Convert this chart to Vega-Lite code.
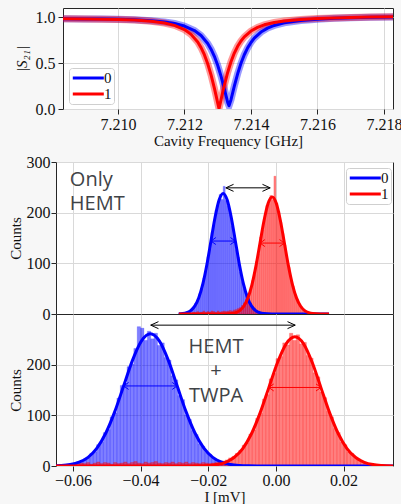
{
"$schema": "https://vega.github.io/schema/vega-lite/v6.json",
"background": "#f7f7f7",
"padding": {"left": 6, "top": 7, "right": 0, "bottom": 0},
"datasets": {
"s21": [
{"s":"0","f":7.2083,"v":0.9824},{"s":"0","f":7.209,"v":0.9813},{"s":"0","f":7.2095,"v":0.9797},{"s":"0","f":7.21,"v":0.9767},{"s":"0","f":7.2105,"v":0.9714},{"s":"0","f":7.211,"v":0.962},{"s":"0","f":7.2114,"v":0.9484},{"s":"0","f":7.2117,"v":0.9315},{"s":"0","f":7.212,"v":0.9037},{"s":"0","f":7.2123,"v":0.8548},{"s":"0","f":7.2125,"v":0.8},{"s":"0","f":7.2127,"v":0.7132},{"s":"0","f":7.2128,"v":0.6515},{"s":"0","f":7.2129,"v":0.5735},{"s":"0","f":7.213,"v":0.4763},{"s":"0","f":7.2131,"v":0.3578},{"s":"0","f":7.2132,"v":0.2198},{"s":"0","f":7.21325,"v":0.1458},{"s":"0","f":7.2133,"v":0.0724},{"s":"0","f":7.21334,"v":0.035},{"s":"0","f":7.2134,"v":0.1011},{"s":"0","f":7.21345,"v":0.1756},{"s":"0","f":7.2135,"v":0.2487},{"s":"0","f":7.2136,"v":0.3832},{"s":"0","f":7.2137,"v":0.4976},{"s":"0","f":7.2138,"v":0.591},{"s":"0","f":7.2139,"v":0.6656},{"s":"0","f":7.214,"v":0.7246},{"s":"0","f":7.2141,"v":0.7712},{"s":"0","f":7.2143,"v":0.8377},{"s":"0","f":7.2145,"v":0.8809},{"s":"0","f":7.2147,"v":0.9099},{"s":"0","f":7.215,"v":0.9381},{"s":"0","f":7.2155,"v":0.9643},{"s":"0","f":7.216,"v":0.9786},{"s":"0","f":7.2165,"v":0.9873},{"s":"0","f":7.217,"v":0.9933},{"s":"0","f":7.2176,"v":0.9985},{"s":"0","f":7.2183,"v":1.0028},
{"s":"1","f":7.2083,"v":0.9822},{"s":"1","f":7.209,"v":0.9809},{"s":"1","f":7.2095,"v":0.9788},{"s":"1","f":7.21,"v":0.9751},{"s":"1","f":7.2105,"v":0.9684},{"s":"1","f":7.211,"v":0.9557},{"s":"1","f":7.2114,"v":0.9364},{"s":"1","f":7.2117,"v":0.9107},{"s":"1","f":7.212,"v":0.8649},{"s":"1","f":7.2122,"v":0.8129},{"s":"1","f":7.2124,"v":0.7291},{"s":"1","f":7.2125,"v":0.6686},{"s":"1","f":7.2126,"v":0.5913},{"s":"1","f":7.2127,"v":0.4931},{"s":"1","f":7.2128,"v":0.3715},{"s":"1","f":7.2129,"v":0.2274},{"s":"1","f":7.21295,"v":0.1485},{"s":"1","f":7.213,"v":0.0667},{"s":"1","f":7.21304,"v":0.005},{"s":"1","f":7.2131,"v":0.0997},{"s":"1","f":7.21315,"v":0.1804},{"s":"1","f":7.2132,"v":0.2579},{"s":"1","f":7.2133,"v":0.398},{"s":"1","f":7.2134,"v":0.515},{"s":"1","f":7.2135,"v":0.609},{"s":"1","f":7.2136,"v":0.683},{"s":"1","f":7.2137,"v":0.741},{"s":"1","f":7.2138,"v":0.786},{"s":"1","f":7.214,"v":0.849},{"s":"1","f":7.2142,"v":0.8896},{"s":"1","f":7.2144,"v":0.9167},{"s":"1","f":7.2147,"v":0.9429},{"s":"1","f":7.215,"v":0.9594},{"s":"1","f":7.2155,"v":0.9758},{"s":"1","f":7.216,"v":0.9856},{"s":"1","f":7.2165,"v":0.9919},{"s":"1","f":7.217,"v":0.9965},{"s":"1","f":7.2176,"v":1.0007},{"s":"1","f":7.2183,"v":1.0043}
],
"hm": [
{"s":"0","a":-0.0288,"b":-0.0282,"c":1},{"s":"0","a":-0.0282,"b":-0.0276,"c":1},{"s":"0","a":-0.0276,"b":-0.027,"c":1},{"s":"0","a":-0.027,"b":-0.0264,"c":2},{"s":"0","a":-0.0264,"b":-0.0258,"c":3},{"s":"0","a":-0.0258,"b":-0.0252,"c":5},{"s":"0","a":-0.0252,"b":-0.0246,"c":9},{"s":"0","a":-0.0246,"b":-0.024,"c":12},{"s":"0","a":-0.024,"b":-0.0234,"c":21},{"s":"0","a":-0.0234,"b":-0.0228,"c":26},{"s":"0","a":-0.0228,"b":-0.0222,"c":40},{"s":"0","a":-0.0222,"b":-0.0216,"c":49},{"s":"0","a":-0.0216,"b":-0.021,"c":71},{"s":"0","a":-0.021,"b":-0.0204,"c":84},{"s":"0","a":-0.0204,"b":-0.0198,"c":113},{"s":"0","a":-0.0198,"b":-0.0192,"c":128},{"s":"0","a":-0.0192,"b":-0.0186,"c":161},{"s":"0","a":-0.0186,"b":-0.018,"c":176},{"s":"0","a":-0.018,"b":-0.0174,"c":205},{"s":"0","a":-0.0174,"b":-0.0168,"c":214},{"s":"0","a":-0.0168,"b":-0.0162,"c":236},{"s":"0","a":-0.0162,"b":-0.0156,"c":226},{"s":"0","a":-0.0156,"b":-0.015,"c":252},{"s":"0","a":-0.015,"b":-0.0144,"c":224},{"s":"0","a":-0.0144,"b":-0.0138,"c":213},{"s":"0","a":-0.0138,"b":-0.0132,"c":196},{"s":"0","a":-0.0132,"b":-0.0126,"c":174},{"s":"0","a":-0.0126,"b":-0.012,"c":151},{"s":"0","a":-0.012,"b":-0.0114,"c":127},{"s":"0","a":-0.0114,"b":-0.0108,"c":112},{"s":"0","a":-0.0108,"b":-0.0102,"c":83},{"s":"0","a":-0.0102,"b":-0.0096,"c":64},{"s":"0","a":-0.0096,"b":-0.009,"c":50},{"s":"0","a":-0.009,"b":-0.0084,"c":40},{"s":"0","a":-0.0084,"b":-0.0078,"c":31},{"s":"0","a":-0.0078,"b":-0.0072,"c":22},{"s":"0","a":-0.0072,"b":-0.0066,"c":15},{"s":"0","a":-0.0066,"b":-0.006,"c":10},{"s":"0","a":-0.006,"b":-0.0054,"c":7},{"s":"0","a":-0.0054,"b":-0.0048,"c":4},{"s":"0","a":-0.0048,"b":-0.0042,"c":3},{"s":"0","a":-0.0042,"b":-0.0036,"c":2},{"s":"0","a":-0.0036,"b":-0.003,"c":1},{"s":"0","a":-0.003,"b":-0.0024,"c":1},
{"s":"1","a":-0.0282,"b":-0.0276,"c":1},{"s":"1","a":-0.027,"b":-0.0264,"c":2},{"s":"1","a":-0.0264,"b":-0.0258,"c":1},{"s":"1","a":-0.0258,"b":-0.0252,"c":3},{"s":"1","a":-0.0252,"b":-0.0246,"c":2},{"s":"1","a":-0.0246,"b":-0.024,"c":4},{"s":"1","a":-0.024,"b":-0.0234,"c":3},{"s":"1","a":-0.0234,"b":-0.0228,"c":5},{"s":"1","a":-0.0228,"b":-0.0222,"c":3},{"s":"1","a":-0.0222,"b":-0.0216,"c":4},{"s":"1","a":-0.0216,"b":-0.021,"c":6},{"s":"1","a":-0.021,"b":-0.0204,"c":3},{"s":"1","a":-0.0204,"b":-0.0198,"c":5},{"s":"1","a":-0.0198,"b":-0.0192,"c":4},{"s":"1","a":-0.0192,"b":-0.0186,"c":6},{"s":"1","a":-0.0186,"b":-0.018,"c":5},{"s":"1","a":-0.018,"b":-0.0174,"c":3},{"s":"1","a":-0.0174,"b":-0.0168,"c":6},{"s":"1","a":-0.0168,"b":-0.0162,"c":4},{"s":"1","a":-0.0162,"b":-0.0156,"c":5},{"s":"1","a":-0.0156,"b":-0.015,"c":6},{"s":"1","a":-0.015,"b":-0.0144,"c":5},{"s":"1","a":-0.0144,"b":-0.0138,"c":6},{"s":"1","a":-0.0138,"b":-0.0132,"c":7},{"s":"1","a":-0.0132,"b":-0.0126,"c":6},{"s":"1","a":-0.0126,"b":-0.012,"c":8},{"s":"1","a":-0.012,"b":-0.0114,"c":9},{"s":"1","a":-0.0114,"b":-0.0108,"c":11},{"s":"1","a":-0.0108,"b":-0.0102,"c":13},{"s":"1","a":-0.0102,"b":-0.0096,"c":17},{"s":"1","a":-0.0096,"b":-0.009,"c":22},{"s":"1","a":-0.009,"b":-0.0084,"c":28},{"s":"1","a":-0.0084,"b":-0.0078,"c":36},{"s":"1","a":-0.0078,"b":-0.0072,"c":45},{"s":"1","a":-0.0072,"b":-0.0066,"c":66},{"s":"1","a":-0.0066,"b":-0.006,"c":78},{"s":"1","a":-0.006,"b":-0.0054,"c":104},{"s":"1","a":-0.0054,"b":-0.0048,"c":119},{"s":"1","a":-0.0048,"b":-0.0042,"c":152},{"s":"1","a":-0.0042,"b":-0.0036,"c":166},{"s":"1","a":-0.0036,"b":-0.003,"c":189},{"s":"1","a":-0.003,"b":-0.0024,"c":214},{"s":"1","a":-0.0024,"b":-0.0018,"c":218},{"s":"1","a":-0.0018,"b":-0.0012,"c":234},{"s":"1","a":-0.0012,"b":-0.0006,"c":226},{"s":"1","a":-0.0006,"b":0,"c":272},{"s":"1","a":0,"b":0.0006,"c":219},{"s":"1","a":0.0006,"b":0.0012,"c":203},{"s":"1","a":0.0012,"b":0.0018,"c":181},{"s":"1","a":0.0018,"b":0.0024,"c":159},{"s":"1","a":0.0024,"b":0.003,"c":136},{"s":"1","a":0.003,"b":0.0036,"c":106},{"s":"1","a":0.0036,"b":0.0042,"c":92},{"s":"1","a":0.0042,"b":0.0048,"c":66},{"s":"1","a":0.0048,"b":0.0054,"c":55},{"s":"1","a":0.0054,"b":0.006,"c":37},{"s":"1","a":0.006,"b":0.0066,"c":29},{"s":"1","a":0.0066,"b":0.0072,"c":19},{"s":"1","a":0.0072,"b":0.0078,"c":14},{"s":"1","a":0.0078,"b":0.0084,"c":9},{"s":"1","a":0.0084,"b":0.009,"c":6},{"s":"1","a":0.009,"b":0.0096,"c":4},{"s":"1","a":0.0096,"b":0.0102,"c":3},{"s":"1","a":0.0102,"b":0.0108,"c":2},{"s":"1","a":0.0108,"b":0.0114,"c":1},{"s":"1","a":0.0114,"b":0.012,"c":1},{"s":"1","a":0.0126,"b":0.0132,"c":1},{"s":"1","a":0.0138,"b":0.0144,"c":1},{"s":"1","a":0.015,"b":0.0156,"c":1}
],
"hb": [
{"s":"0","a":-0.065,"b":-0.064,"c":1},{"s":"0","a":-0.064,"b":-0.063,"c":2},{"s":"0","a":-0.063,"b":-0.062,"c":1},{"s":"0","a":-0.062,"b":-0.061,"c":3},{"s":"0","a":-0.061,"b":-0.06,"c":4},{"s":"0","a":-0.06,"b":-0.059,"c":5},{"s":"0","a":-0.059,"b":-0.058,"c":8},{"s":"0","a":-0.058,"b":-0.057,"c":10},{"s":"0","a":-0.057,"b":-0.056,"c":14},{"s":"0","a":-0.056,"b":-0.055,"c":16},{"s":"0","a":-0.055,"b":-0.054,"c":25},{"s":"0","a":-0.054,"b":-0.053,"c":28},{"s":"0","a":-0.053,"b":-0.052,"c":42},{"s":"0","a":-0.052,"b":-0.051,"c":47},{"s":"0","a":-0.051,"b":-0.05,"c":66},{"s":"0","a":-0.05,"b":-0.049,"c":72},{"s":"0","a":-0.049,"b":-0.048,"c":97},{"s":"0","a":-0.048,"b":-0.047,"c":105},{"s":"0","a":-0.047,"b":-0.046,"c":134},{"s":"0","a":-0.046,"b":-0.045,"c":159},{"s":"0","a":-0.045,"b":-0.044,"c":163},{"s":"0","a":-0.044,"b":-0.043,"c":196},{"s":"0","a":-0.043,"b":-0.042,"c":201},{"s":"0","a":-0.042,"b":-0.041,"c":232},{"s":"0","a":-0.041,"b":-0.04,"c":275},{"s":"0","a":-0.04,"b":-0.039,"c":272},{"s":"0","a":-0.039,"b":-0.038,"c":248},{"s":"0","a":-0.038,"b":-0.037,"c":266},{"s":"0","a":-0.037,"b":-0.036,"c":251},{"s":"0","a":-0.036,"b":-0.035,"c":262},{"s":"0","a":-0.035,"b":-0.034,"c":238},{"s":"0","a":-0.034,"b":-0.033,"c":243},{"s":"0","a":-0.033,"b":-0.032,"c":214},{"s":"0","a":-0.032,"b":-0.031,"c":209},{"s":"0","a":-0.031,"b":-0.03,"c":178},{"s":"0","a":-0.03,"b":-0.029,"c":170},{"s":"0","a":-0.029,"b":-0.028,"c":139},{"s":"0","a":-0.028,"b":-0.027,"c":131},{"s":"0","a":-0.027,"b":-0.026,"c":101},{"s":"0","a":-0.026,"b":-0.025,"c":92},{"s":"0","a":-0.025,"b":-0.024,"c":70},{"s":"0","a":-0.024,"b":-0.023,"c":62},{"s":"0","a":-0.023,"b":-0.022,"c":44},{"s":"0","a":-0.022,"b":-0.021,"c":39},{"s":"0","a":-0.021,"b":-0.02,"c":27},{"s":"0","a":-0.02,"b":-0.019,"c":23},{"s":"0","a":-0.019,"b":-0.018,"c":15},{"s":"0","a":-0.018,"b":-0.017,"c":13},{"s":"0","a":-0.017,"b":-0.016,"c":8},{"s":"0","a":-0.016,"b":-0.015,"c":7},{"s":"0","a":-0.015,"b":-0.014,"c":4},{"s":"0","a":-0.014,"b":-0.013,"c":3},{"s":"0","a":-0.013,"b":-0.012,"c":2},{"s":"0","a":-0.012,"b":-0.011,"c":2},{"s":"0","a":-0.011,"b":-0.01,"c":1},
{"s":"1","a":-0.065,"b":-0.064,"c":2},{"s":"1","a":-0.064,"b":-0.063,"c":3},{"s":"1","a":-0.063,"b":-0.062,"c":2},{"s":"1","a":-0.062,"b":-0.061,"c":4},{"s":"1","a":-0.061,"b":-0.06,"c":3},{"s":"1","a":-0.06,"b":-0.059,"c":5},{"s":"1","a":-0.059,"b":-0.058,"c":4},{"s":"1","a":-0.058,"b":-0.057,"c":6},{"s":"1","a":-0.057,"b":-0.056,"c":5},{"s":"1","a":-0.056,"b":-0.055,"c":7},{"s":"1","a":-0.055,"b":-0.054,"c":4},{"s":"1","a":-0.054,"b":-0.053,"c":6},{"s":"1","a":-0.053,"b":-0.052,"c":8},{"s":"1","a":-0.052,"b":-0.051,"c":5},{"s":"1","a":-0.051,"b":-0.05,"c":7},{"s":"1","a":-0.05,"b":-0.049,"c":6},{"s":"1","a":-0.049,"b":-0.048,"c":4},{"s":"1","a":-0.048,"b":-0.047,"c":7},{"s":"1","a":-0.047,"b":-0.046,"c":5},{"s":"1","a":-0.046,"b":-0.045,"c":6},{"s":"1","a":-0.045,"b":-0.044,"c":8},{"s":"1","a":-0.044,"b":-0.043,"c":5},{"s":"1","a":-0.043,"b":-0.042,"c":7},{"s":"1","a":-0.042,"b":-0.041,"c":9},{"s":"1","a":-0.041,"b":-0.04,"c":6},{"s":"1","a":-0.04,"b":-0.039,"c":5},{"s":"1","a":-0.039,"b":-0.038,"c":8},{"s":"1","a":-0.038,"b":-0.037,"c":6},{"s":"1","a":-0.037,"b":-0.036,"c":7},{"s":"1","a":-0.036,"b":-0.035,"c":9},{"s":"1","a":-0.035,"b":-0.034,"c":6},{"s":"1","a":-0.034,"b":-0.033,"c":5},{"s":"1","a":-0.033,"b":-0.032,"c":7},{"s":"1","a":-0.032,"b":-0.031,"c":6},{"s":"1","a":-0.031,"b":-0.03,"c":8},{"s":"1","a":-0.03,"b":-0.029,"c":5},{"s":"1","a":-0.029,"b":-0.028,"c":7},{"s":"1","a":-0.028,"b":-0.027,"c":6},{"s":"1","a":-0.027,"b":-0.026,"c":8},{"s":"1","a":-0.026,"b":-0.025,"c":5},{"s":"1","a":-0.025,"b":-0.024,"c":7},{"s":"1","a":-0.024,"b":-0.023,"c":6},{"s":"1","a":-0.023,"b":-0.022,"c":5},{"s":"1","a":-0.022,"b":-0.021,"c":7},{"s":"1","a":-0.021,"b":-0.02,"c":6},{"s":"1","a":-0.02,"b":-0.019,"c":5},{"s":"1","a":-0.019,"b":-0.018,"c":6},{"s":"1","a":-0.018,"b":-0.017,"c":7},{"s":"1","a":-0.017,"b":-0.016,"c":8},{"s":"1","a":-0.016,"b":-0.015,"c":10},{"s":"1","a":-0.015,"b":-0.014,"c":12},{"s":"1","a":-0.014,"b":-0.013,"c":16},{"s":"1","a":-0.013,"b":-0.012,"c":19},{"s":"1","a":-0.012,"b":-0.011,"c":25},{"s":"1","a":-0.011,"b":-0.01,"c":31},{"s":"1","a":-0.01,"b":-0.009,"c":41},{"s":"1","a":-0.009,"b":-0.008,"c":46},{"s":"1","a":-0.008,"b":-0.007,"c":63},{"s":"1","a":-0.007,"b":-0.006,"c":71},{"s":"1","a":-0.006,"b":-0.005,"c":94},{"s":"1","a":-0.005,"b":-0.004,"c":104},{"s":"1","a":-0.004,"b":-0.003,"c":132},{"s":"1","a":-0.003,"b":-0.002,"c":141},{"s":"1","a":-0.002,"b":-0.001,"c":172},{"s":"1","a":-0.001,"b":0,"c":183},{"s":"1","a":0,"b":0.001,"c":212},{"s":"1","a":0.001,"b":0.002,"c":216},{"s":"1","a":0.002,"b":0.003,"c":243},{"s":"1","a":0.003,"b":0.004,"c":239},{"s":"1","a":0.004,"b":0.005,"c":262},{"s":"1","a":0.005,"b":0.006,"c":248},{"s":"1","a":0.006,"b":0.007,"c":259},{"s":"1","a":0.007,"b":0.008,"c":241},{"s":"1","a":0.008,"b":0.009,"c":244},{"s":"1","a":0.009,"b":0.01,"c":218},{"s":"1","a":0.01,"b":0.011,"c":213},{"s":"1","a":0.011,"b":0.012,"c":184},{"s":"1","a":0.012,"b":0.013,"c":176},{"s":"1","a":0.013,"b":0.014,"c":146},{"s":"1","a":0.014,"b":0.015,"c":135},{"s":"1","a":0.015,"b":0.016,"c":108},{"s":"1","a":0.016,"b":0.017,"c":97},{"s":"1","a":0.017,"b":0.018,"c":74},{"s":"1","a":0.018,"b":0.019,"c":66},{"s":"1","a":0.019,"b":0.02,"c":47},{"s":"1","a":0.02,"b":0.021,"c":42},{"s":"1","a":0.021,"b":0.022,"c":28},{"s":"1","a":0.022,"b":0.023,"c":25},{"s":"1","a":0.023,"b":0.024,"c":15},{"s":"1","a":0.024,"b":0.025,"c":14},{"s":"1","a":0.025,"b":0.026,"c":8},{"s":"1","a":0.026,"b":0.027,"c":7},{"s":"1","a":0.027,"b":0.028,"c":4},{"s":"1","a":0.028,"b":0.029,"c":3},{"s":"1","a":0.029,"b":0.03,"c":2},{"s":"1","a":0.03,"b":0.031,"c":1},{"s":"1","a":0.031,"b":0.032,"c":1},{"s":"1","a":0.032,"b":0.033,"c":1}
],
"fm": [
{"s":"0","x":-0.0287,"y":0.3},{"s":"0","x":-0.0276,"y":0.9},{"s":"0","x":-0.0264,"y":2.6},{"s":"0","x":-0.0252,"y":6.8},{"s":"0","x":-0.024,"y":15.6},{"s":"0","x":-0.0228,"y":32.2},{"s":"0","x":-0.0216,"y":59.4},{"s":"0","x":-0.0204,"y":97.8},{"s":"0","x":-0.0192,"y":144.3},{"s":"0","x":-0.018,"y":190.6},{"s":"0","x":-0.0168,"y":225.1},{"s":"0","x":-0.0156,"y":238},{"s":"0","x":-0.0144,"y":225.1},{"s":"0","x":-0.0132,"y":190.6},{"s":"0","x":-0.012,"y":144.3},{"s":"0","x":-0.0108,"y":97.8},{"s":"0","x":-0.0096,"y":59.4},{"s":"0","x":-0.0084,"y":32.2},{"s":"0","x":-0.0072,"y":15.6},{"s":"0","x":-0.006,"y":6.8},{"s":"0","x":-0.0048,"y":2.6},{"s":"0","x":-0.0036,"y":0.9},{"s":"0","x":-0.0012,"y":0.1},{"s":"0","x":0.005,"y":0},{"s":"0","x":0.0157,"y":0},
{"s":"1","x":-0.0287,"y":0},{"s":"1","x":-0.022,"y":0},{"s":"1","x":-0.0155,"y":0.1},{"s":"1","x":-0.0131,"y":0.9},{"s":"1","x":-0.0119,"y":2.6},{"s":"1","x":-0.0107,"y":6.6},{"s":"1","x":-0.0095,"y":15.2},{"s":"1","x":-0.0083,"y":31.3},{"s":"1","x":-0.0071,"y":57.6},{"s":"1","x":-0.0059,"y":95},{"s":"1","x":-0.0047,"y":140.1},{"s":"1","x":-0.0035,"y":185},{"s":"1","x":-0.0023,"y":218.5},{"s":"1","x":-0.0011,"y":231},{"s":"1","x":0.0001,"y":218.5},{"s":"1","x":0.0013,"y":185},{"s":"1","x":0.0025,"y":140.1},{"s":"1","x":0.0037,"y":95},{"s":"1","x":0.0049,"y":57.6},{"s":"1","x":0.0061,"y":31.3},{"s":"1","x":0.0073,"y":15.2},{"s":"1","x":0.0085,"y":6.6},{"s":"1","x":0.0097,"y":2.6},{"s":"1","x":0.0109,"y":0.9},{"s":"1","x":0.0133,"y":0.1},{"s":"1","x":0.0157,"y":0}
],
"fb": [
{"s":"0","x":-0.065,"y":0.5},{"s":"0","x":-0.06343,"y":1},{"s":"0","x":-0.0608,"y":2.9},{"s":"0","x":-0.05817,"y":7.5},{"s":"0","x":-0.05553,"y":17.1},{"s":"0","x":-0.0529,"y":35.3},{"s":"0","x":-0.05027,"y":65.1},{"s":"0","x":-0.04763,"y":107.3},{"s":"0","x":-0.045,"y":158.3},{"s":"0","x":-0.04237,"y":209},{"s":"0","x":-0.03973,"y":246.9},{"s":"0","x":-0.0371,"y":261},{"s":"0","x":-0.03447,"y":246.9},{"s":"0","x":-0.03183,"y":209},{"s":"0","x":-0.0292,"y":158.3},{"s":"0","x":-0.02657,"y":107.3},{"s":"0","x":-0.02393,"y":65.1},{"s":"0","x":-0.0213,"y":35.3},{"s":"0","x":-0.01867,"y":17.1},{"s":"0","x":-0.01603,"y":7.5},{"s":"0","x":-0.0134,"y":2.9},{"s":"0","x":-0.01077,"y":1},{"s":"0","x":-0.00813,"y":0.3},{"s":"0","x":-0.0055,"y":0.1},{"s":"0","x":0.005,"y":0},{"s":"0","x":0.0346,"y":0},
{"s":"1","x":-0.065,"y":0},{"s":"1","x":-0.04,"y":0},{"s":"1","x":-0.0252,"y":0.1},{"s":"1","x":-0.02263,"y":0.3},{"s":"1","x":-0.02007,"y":1},{"s":"1","x":-0.0175,"y":2.8},{"s":"1","x":-0.01493,"y":7.3},{"s":"1","x":-0.01237,"y":16.8},{"s":"1","x":-0.0098,"y":34.5},{"s":"1","x":-0.00723,"y":63.6},{"s":"1","x":-0.00467,"y":104.8},{"s":"1","x":-0.0021,"y":154.7},{"s":"1","x":0.00047,"y":204.2},{"s":"1","x":0.00303,"y":241.2},{"s":"1","x":0.0056,"y":255},{"s":"1","x":0.00817,"y":241.2},{"s":"1","x":0.01073,"y":204.2},{"s":"1","x":0.0133,"y":154.7},{"s":"1","x":0.01587,"y":104.8},{"s":"1","x":0.01843,"y":63.6},{"s":"1","x":0.021,"y":34.5},{"s":"1","x":0.02357,"y":16.8},{"s":"1","x":0.02613,"y":7.3},{"s":"1","x":0.0287,"y":2.8},{"s":"1","x":0.03127,"y":1},{"s":"1","x":0.0346,"y":0.2}
],
"am": [{"s":"d","x1":-0.0148,"x2":-0.0017,"y":249},{"s":"0","x1":-0.0192,"x2":-0.012,"y":144},{"s":"1","x1":-0.0047,"x2":0.0025,"y":140}],
"ab": [{"s":"d","x1":-0.037,"x2":0.0057,"y":278},{"s":"0","x1":-0.045,"x2":-0.0292,"y":158},{"s":"1","x1":-0.0021,"x2":0.0133,"y":155}],
"tm": [{"x":-0.0609,"y":252,"t":"Only\nHEMT"}],
"tb": [{"x":-0.0177,"y":224,"t":"HEMT\n+\nTWPA"}]
},
"vconcat": [
{"hconcat": [
 {"width": 7, "height": 1, "data": {"values": []}, "mark": "point", "view": {"stroke": null, "fill": null}},
 {"width": 330, "height": 101,
  "layer": [
   {"data": {"name": "s21"}, "mark": {"type": "line", "strokeWidth": 7, "opacity": 0.4, "clip": true},
    "encoding": {
     "x": {"field": "f", "type": "quantitative", "scale": {"domain": [7.20835, 7.21827], "nice": false, "zero": false},
           "axis": {"values": [7.21, 7.212, 7.214, 7.216, 7.218], "format": ".3f", "title": "Cavity Frequency [GHz]", "labelPadding": 2, "titlePadding": 1}},
     "y": {"field": "v", "type": "quantitative", "scale": {"domain": [0, 1.1], "nice": false},
           "axis": {"values": [0, 0.5, 1], "format": ".1f", "title": "|S₂₁|", "titleFontStyle": "italic", "labelPadding": 3, "minExtent": 28, "maxExtent": 28, "titlePadding": 6}},
     "color": {"field": "s", "type": "nominal", "scale": {"domain": ["0", "1"], "range": ["#0000ff", "#ff0000"]},
       "legend": {"title": null, "orient": "none", "legendX": 6, "legendY": 60, "symbolType": "M-1,0L4,0", "symbolSize": 154, "symbolStrokeWidth": 3, "symbolOpacity": 1, "labelFont": "Liberation Serif", "labelFontSize": 15, "labelColor": "#111", "labelOffset": 17, "padding": 2, "rowPadding": 0, "fillColor": "white", "strokeColor": "#cfcfcf", "cornerRadius": 3}}
    }},
   {"data": {"name": "s21"}, "mark": {"type": "line", "strokeWidth": 3, "clip": true, "strokeJoin": "round"},
    "encoding": {
     "x": {"field": "f", "type": "quantitative"},
     "y": {"field": "v", "type": "quantitative"},
     "color": {"field": "s", "type": "nominal", "scale": {"domain": ["0", "1"], "range": ["#0000ff", "#ff0000"]}}
    }}
  ]}
], "spacing": 0, "resolve": {"scale": {"color": "independent"}, "legend": {"color": "independent"}}},
{"hconcat": [
 {"width": 1, "height": 1, "data": {"values": []}, "mark": "point", "view": {"stroke": null, "fill": null}},
 {"vconcat": [
  {"width": 337, "height": 152,
   "layer": [
    {"data": {"name": "hm"}, "mark": {"type": "bar", "fillOpacity": 0.5, "strokeOpacity": 0.35, "strokeWidth": 0.5, "clip": true},
     "encoding": {
      "x": {"field": "a", "type": "quantitative", "scale": {"domain": [-0.065, 0.0346], "nice": false, "zero": false},
            "axis": {"values": [-0.06, -0.04, -0.02, 0, 0.02], "labels": false, "ticks": false, "title": null}},
      "x2": {"field": "b"},
      "y": {"field": "c", "type": "quantitative", "scale": {"domain": [0, 300], "nice": false},
            "axis": {"values": [0, 100, 200, 300], "title": "Counts", "labelPadding": 1, "minExtent": 30, "maxExtent": 30, "titlePadding": 3}},
      "y2": {"datum": 0},
      "color": {"field": "s", "type": "nominal", "scale": {"domain": ["0", "1"], "range": ["#0000ff", "#ff0000"]}},
      "stroke": {"field": "s", "type": "nominal", "scale": {"domain": ["0", "1"], "range": ["#0000ff", "#ff0000"]}, "legend": null}
     }},
    {"data": {"name": "fm"}, "mark": {"type": "line", "strokeWidth": 3, "interpolate": "monotone", "clip": true},
     "encoding": {
      "x": {"field": "x", "type": "quantitative"},
      "y": {"field": "y", "type": "quantitative"},
      "color": {"field": "s", "type": "nominal", "scale": {"domain": ["0", "1"], "range": ["#0000ff", "#ff0000"]},
        "legend": {"title": null, "orient": "none", "legendX": 290, "legendY": 6, "symbolType": "M-1,0L4,0", "symbolSize": 154, "symbolStrokeWidth": 3, "symbolOpacity": 1, "labelFont": "Liberation Serif", "labelFontSize": 15, "labelColor": "#111", "labelOffset": 17, "padding": 2, "rowPadding": 0, "fillColor": "white", "strokeColor": "#cfcfcf", "cornerRadius": 3}}
     }},
    {"data": {"name": "am"}, "transform": [{"filter": "datum.s != 'd'"}], "mark": {"type": "rule", "strokeWidth": 1},
     "encoding": {"x": {"field": "x1", "type": "quantitative"}, "x2": {"field": "x2"}, "y": {"field": "y", "type": "quantitative"},
      "color": {"field": "s", "type": "nominal", "scale": {"domain": ["0", "1"], "range": ["#0000ff", "#ff0000"]}}}},
    {"data": {"name": "am"}, "transform": [{"filter": "datum.s != 'd'"}], "mark": {"type": "point", "shape": "M1.4,-1L0,0L1.4,1", "size": 49, "filled": false, "strokeWidth": 1, "opacity": 1},
     "encoding": {"x": {"field": "x1", "type": "quantitative"}, "y": {"field": "y", "type": "quantitative"},
      "color": {"field": "s", "type": "nominal", "scale": {"domain": ["0", "1"], "range": ["#0000ff", "#ff0000"]}}}},
    {"data": {"name": "am"}, "transform": [{"filter": "datum.s != 'd'"}], "mark": {"type": "point", "shape": "M-1.4,-1L0,0L-1.4,1", "size": 49, "filled": false, "strokeWidth": 1, "opacity": 1},
     "encoding": {"x": {"field": "x2", "type": "quantitative"}, "y": {"field": "y", "type": "quantitative"},
      "color": {"field": "s", "type": "nominal", "scale": {"domain": ["0", "1"], "range": ["#0000ff", "#ff0000"]}}}},
    {"data": {"name": "am"}, "transform": [{"filter": "datum.s == 'd'"}], "mark": {"type": "rule", "strokeWidth": 1, "color": "#000000"},
     "encoding": {"x": {"field": "x1", "type": "quantitative"}, "x2": {"field": "x2"}, "y": {"field": "y", "type": "quantitative"}}},
    {"data": {"name": "am"}, "transform": [{"filter": "datum.s == 'd'"}], "mark": {"type": "point", "shape": "M2.2,-1L0,0L2.2,1", "size": 49, "filled": false, "strokeWidth": 1, "opacity": 1, "color": "#000000"},
     "encoding": {"x": {"field": "x1", "type": "quantitative"}, "y": {"field": "y", "type": "quantitative"}}},
    {"data": {"name": "am"}, "transform": [{"filter": "datum.s == 'd'"}], "mark": {"type": "point", "shape": "M-2.2,-1L0,0L-2.2,1", "size": 49, "filled": false, "strokeWidth": 1, "opacity": 1, "color": "#000000"},
     "encoding": {"x": {"field": "x2", "type": "quantitative"}, "y": {"field": "y", "type": "quantitative"}}},
    {"data": {"name": "tm"}, "mark": {"type": "text", "font": "Open Sans", "fontSize": 20, "fill": "#3f4347", "align": "left", "baseline": "alphabetic", "lineBreak": "\n", "lineHeight": 24},
     "encoding": {"x": {"field": "x", "type": "quantitative"}, "y": {"field": "y", "type": "quantitative"}, "text": {"field": "t"}}}
   ]},
  {"width": 337, "height": 152,
   "layer": [
    {"data": {"name": "hb"}, "mark": {"type": "bar", "fillOpacity": 0.5, "strokeOpacity": 0.35, "strokeWidth": 0.5, "clip": true},
     "encoding": {
      "x": {"field": "a", "type": "quantitative", "scale": {"domain": [-0.065, 0.0346], "nice": false, "zero": false},
            "axis": {"values": [-0.06, -0.04, -0.02, 0, 0.02], "format": ".2f", "title": "I [mV]", "labelPadding": 1, "titlePadding": 1}},
      "x2": {"field": "b"},
      "y": {"field": "c", "type": "quantitative", "scale": {"domain": [0, 300], "nice": false},
            "axis": {"values": [0, 100, 200], "title": "Counts", "labelPadding": 1, "minExtent": 30, "maxExtent": 30, "titlePadding": 3}},
      "y2": {"datum": 0},
      "color": {"field": "s", "type": "nominal", "scale": {"domain": ["0", "1"], "range": ["#0000ff", "#ff0000"]}, "legend": null},
      "stroke": {"field": "s", "type": "nominal", "scale": {"domain": ["0", "1"], "range": ["#0000ff", "#ff0000"]}, "legend": null}
     }},
    {"data": {"name": "fb"}, "mark": {"type": "line", "strokeWidth": 3, "interpolate": "monotone", "clip": true},
     "encoding": {
      "x": {"field": "x", "type": "quantitative"},
      "y": {"field": "y", "type": "quantitative"},
      "color": {"field": "s", "type": "nominal", "scale": {"domain": ["0", "1"], "range": ["#0000ff", "#ff0000"]}, "legend": null}
     }},
    {"data": {"name": "ab"}, "transform": [{"filter": "datum.s != 'd'"}], "mark": {"type": "rule", "strokeWidth": 1},
     "encoding": {"x": {"field": "x1", "type": "quantitative"}, "x2": {"field": "x2"}, "y": {"field": "y", "type": "quantitative"},
      "color": {"field": "s", "type": "nominal", "scale": {"domain": ["0", "1"], "range": ["#0000ff", "#ff0000"]}, "legend": null}}},
    {"data": {"name": "ab"}, "transform": [{"filter": "datum.s != 'd'"}], "mark": {"type": "point", "shape": "M1.4,-1L0,0L1.4,1", "size": 49, "filled": false, "strokeWidth": 1, "opacity": 1},
     "encoding": {"x": {"field": "x1", "type": "quantitative"}, "y": {"field": "y", "type": "quantitative"},
      "color": {"field": "s", "type": "nominal", "scale": {"domain": ["0", "1"], "range": ["#0000ff", "#ff0000"]}, "legend": null}}},
    {"data": {"name": "ab"}, "transform": [{"filter": "datum.s != 'd'"}], "mark": {"type": "point", "shape": "M-1.4,-1L0,0L-1.4,1", "size": 49, "filled": false, "strokeWidth": 1, "opacity": 1},
     "encoding": {"x": {"field": "x2", "type": "quantitative"}, "y": {"field": "y", "type": "quantitative"},
      "color": {"field": "s", "type": "nominal", "scale": {"domain": ["0", "1"], "range": ["#0000ff", "#ff0000"]}, "legend": null}}},
    {"data": {"name": "ab"}, "transform": [{"filter": "datum.s == 'd'"}], "mark": {"type": "rule", "strokeWidth": 1, "color": "#000000"},
     "encoding": {"x": {"field": "x1", "type": "quantitative"}, "x2": {"field": "x2"}, "y": {"field": "y", "type": "quantitative"}}},
    {"data": {"name": "ab"}, "transform": [{"filter": "datum.s == 'd'"}], "mark": {"type": "point", "shape": "M2.2,-1L0,0L2.2,1", "size": 49, "filled": false, "strokeWidth": 1, "opacity": 1, "color": "#000000"},
     "encoding": {"x": {"field": "x1", "type": "quantitative"}, "y": {"field": "y", "type": "quantitative"}}},
    {"data": {"name": "ab"}, "transform": [{"filter": "datum.s == 'd'"}], "mark": {"type": "point", "shape": "M-2.2,-1L0,0L-2.2,1", "size": 49, "filled": false, "strokeWidth": 1, "opacity": 1, "color": "#000000"},
     "encoding": {"x": {"field": "x2", "type": "quantitative"}, "y": {"field": "y", "type": "quantitative"}}},
    {"data": {"name": "tb"}, "mark": {"type": "text", "font": "Open Sans", "fontSize": 20, "fill": "#3f4347", "align": "center", "baseline": "alphabetic", "lineBreak": "\n", "lineHeight": 24.5},
     "encoding": {"x": {"field": "x", "type": "quantitative"}, "y": {"field": "y", "type": "quantitative"}, "text": {"field": "t"}}}
   ]}
 ], "spacing": 0, "bounds": "flush",
 "resolve": {"scale": {"color": "independent", "stroke": "independent"}, "legend": {"color": "independent"}}}
], "spacing": 0, "resolve": {"scale": {"color": "independent"}, "legend": {"color": "independent"}}}
],
"spacing": 4,
"resolve": {"scale": {"color": "independent"}, "legend": {"color": "independent"}},
"config": {
 "font": "Liberation Serif",
 "view": {"stroke": "#262626", "strokeWidth": 1, "fill": "white"},
 "axis": {"labelFont": "Liberation Serif", "labelFontSize": 16, "labelColor": "#111", "titleFont": "Liberation Serif", "titleFontSize": 15, "titleFontWeight": "normal", "titleColor": "#111", "gridColor": "#d9d9d9", "gridWidth": 1, "tickColor": "#262626", "tickSize": 5, "tickWidth": 1, "domain": false, "labelFlush": false, "labelOverlap": false}
}
}
